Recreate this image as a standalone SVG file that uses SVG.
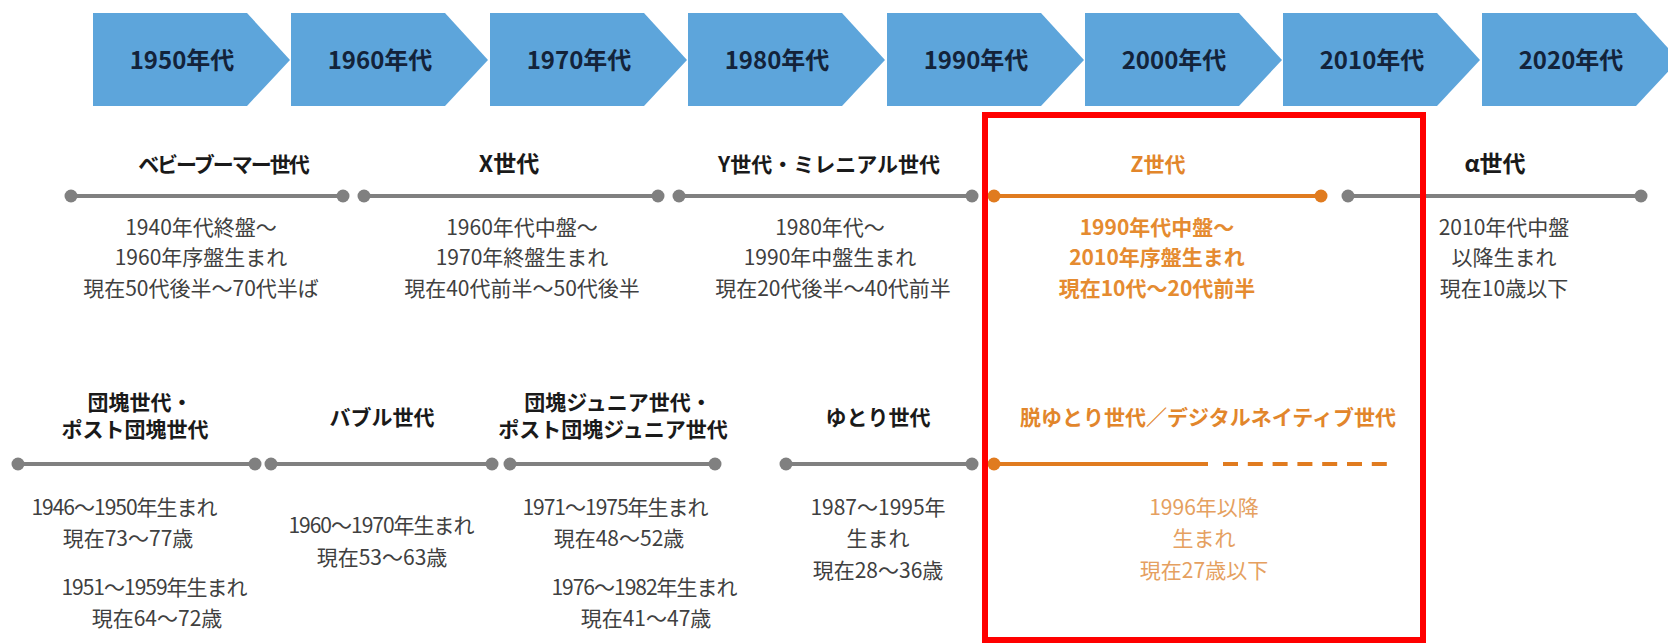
<svg xmlns="http://www.w3.org/2000/svg" width="1668" height="643" viewBox="0 0 1668 643">
<defs>
<style>
text{font-family:'Noto Sans CJK JP','Noto Sans',sans-serif;text-anchor:middle}
.chev{fill:#5DA5DB}
.ct{font-weight:bold;font-size:24px;fill:#13233a}
.lbl{font-weight:bold;font-size:21px;fill:#1a1a1a}
.big{font-size:23px}
.txt{font-size:21px;fill:#404040}
.bar{stroke:#808080;stroke-width:4;fill:none}
.dot{fill:#808080}
.obar{stroke:#E07B1F;stroke-width:4;fill:none}
.odot{fill:#E07B1F}
.olbl{font-weight:bold;font-size:21px;fill:#E2862B}
.otxt{font-size:21px;font-weight:bold;fill:#E58B30}
.otxt2{font-size:21px;fill:#E5A060}
</style>
</defs>
<rect width="1668" height="643" fill="#ffffff"/>

<g id="chevrons">
<g id="c1950"><path class="chev" d="M93,13H247L290,60L247,106H93Z"/><text class="ct" x="182" y="69">1950年代</text></g>
<g id="c1960"><path class="chev" d="M291,13H445L488,60L445,106H291Z"/><text class="ct" x="380" y="69">1960年代</text></g>
<g id="c1970"><path class="chev" d="M490,13H644L687,60L644,106H490Z"/><text class="ct" x="579" y="69">1970年代</text></g>
<g id="c1980"><path class="chev" d="M688,13H842L885,60L842,106H688Z"/><text class="ct" x="777" y="69">1980年代</text></g>
<g id="c1990"><path class="chev" d="M887,13H1041L1084,60L1041,106H887Z"/><text class="ct" x="976" y="69">1990年代</text></g>
<g id="c2000"><path class="chev" d="M1085,13H1239L1282,60L1239,106H1085Z"/><text class="ct" x="1174" y="69">2000年代</text></g>
<g id="c2010"><path class="chev" d="M1283,13H1437L1480,60L1437,106H1283Z"/><text class="ct" x="1372" y="69">2010年代</text></g>
<g id="c2020"><path class="chev" d="M1482,13H1636L1679,60L1636,106H1482Z"/><text class="ct" x="1571" y="69">2020年代</text></g>
</g>

<g id="connectors">
<line class="bar" x1="71" y1="196" x2="343" y2="196"/>
<line class="bar" x1="364" y1="196" x2="658" y2="196"/>
<line class="bar" x1="679" y1="196" x2="972" y2="196"/>
<line class="obar" x1="994" y1="196" x2="1321" y2="196"/>
<line class="bar" x1="1348" y1="196" x2="1641" y2="196"/>
<line class="bar" x1="18" y1="464" x2="255" y2="464"/>
<line class="bar" x1="271" y1="464" x2="492" y2="464"/>
<line class="bar" x1="510" y1="464" x2="715" y2="464"/>
<line class="bar" x1="786" y1="464" x2="972" y2="464"/>
<line class="obar" x1="994" y1="464" x2="1208" y2="464"/>
<line class="obar" x1="1223" y1="464" x2="1388" y2="464" stroke-dasharray="15 9.8"/>
</g>

<g id="boomer">
<circle class="dot" cx="71" cy="196" r="6.5"/><circle class="dot" cx="343" cy="196" r="6.5"/>
<text class="lbl" x="223" y="172" letter-spacing="-2">ベビーブーマー世代</text>
<text class="txt" x="201" y="235">1940年代終盤～</text>
<text class="txt" x="201" y="265">1960年序盤生まれ</text>
<text class="txt" x="201" y="296">現在50代後半～70代半ば</text>
</g>
<g id="genX">
<circle class="dot" cx="364" cy="196" r="6.5"/><circle class="dot" cx="658" cy="196" r="6.5"/>
<text class="lbl big" x="509" y="172">X世代</text>
<text class="txt" x="522" y="235">1960年代中盤～</text>
<text class="txt" x="522" y="265">1970年終盤生まれ</text>
<text class="txt" x="522" y="296">現在40代前半～50代後半</text>
</g>
<g id="genY">
<circle class="dot" cx="679" cy="196" r="6.5"/><circle class="dot" cx="972" cy="196" r="6.5"/>
<text class="lbl" x="829" y="172">Y世代・ミレニアル世代</text>
<text class="txt" x="830" y="235">1980年代～</text>
<text class="txt" x="830" y="265">1990年中盤生まれ</text>
<text class="txt" x="833" y="296">現在20代後半～40代前半</text>
</g>
<g id="genZ">
<circle class="odot" cx="994" cy="196" r="6.5"/><circle class="odot" cx="1321" cy="196" r="6.5"/>
<text class="olbl big" x="1158" y="172">Z世代</text>
<text class="otxt" x="1157" y="235">1990年代中盤～</text>
<text class="otxt" x="1157" y="265">2010年序盤生まれ</text>
<text class="otxt" x="1157" y="296">現在10代～20代前半</text>
</g>
<g id="genAlpha">
<circle class="dot" cx="1348" cy="196" r="6.5"/><circle class="dot" cx="1641" cy="196" r="6.5"/>
<text class="lbl big" x="1495" y="172">α世代</text>
<text class="txt" x="1504" y="235">2010年代中盤</text>
<text class="txt" x="1504" y="265">以降生まれ</text>
<text class="txt" x="1504" y="296">現在10歳以下</text>
</g>

<g id="dankai">
<circle class="dot" cx="18" cy="464" r="6.5"/><circle class="dot" cx="255" cy="464" r="6.5"/>
<text class="lbl" x="140" y="410">団塊世代・</text>
<text class="lbl" x="135" y="437">ポスト団塊世代</text>
<text class="txt" x="124" y="515" letter-spacing="-1">1946～1950年生まれ</text>
<text class="txt" x="128" y="546">現在73～77歳</text>
<text class="txt" x="154" y="595" letter-spacing="-1">1951～1959年生まれ</text>
<text class="txt" x="157" y="626">現在64～72歳</text>
</g>
<g id="bubble">
<circle class="dot" cx="271" cy="464" r="6.5"/><circle class="dot" cx="492" cy="464" r="6.5"/>
<text class="lbl" x="382" y="425">バブル世代</text>
<text class="txt" x="381" y="533" letter-spacing="-1">1960～1970年生まれ</text>
<text class="txt" x="382" y="565">現在53～63歳</text>
</g>
<g id="dankaiJr">
<circle class="dot" cx="510" cy="464" r="6.5"/><circle class="dot" cx="715" cy="464" r="6.5"/>
<text class="lbl" x="618" y="410">団塊ジュニア世代・</text>
<text class="lbl" x="613" y="437">ポスト団塊ジュニア世代</text>
<text class="txt" x="615" y="515" letter-spacing="-1">1971～1975年生まれ</text>
<text class="txt" x="619" y="546">現在48～52歳</text>
<text class="txt" x="644" y="595" letter-spacing="-1">1976～1982年生まれ</text>
<text class="txt" x="646" y="626">現在41～47歳</text>
</g>
<g id="yutori">
<circle class="dot" cx="786" cy="464" r="6.5"/><circle class="dot" cx="972" cy="464" r="6.5"/>
<text class="lbl" x="878" y="425">ゆとり世代</text>
<text class="txt" x="878" y="515">1987～1995年</text>
<text class="txt" x="878" y="546">生まれ</text>
<text class="txt" x="878" y="578">現在28～36歳</text>
</g>
<g id="datsuYutori">
<circle class="odot" cx="994" cy="464" r="6.5"/>
<text class="olbl" x="1208" y="425">脱ゆとり世代／デジタルネイティブ世代</text>
<text class="otxt2" x="1204" y="515">1996年以降</text>
<text class="otxt2" x="1204" y="546">生まれ</text>
<text class="otxt2" x="1204" y="578">現在27歳以下</text>
</g>

<g id="highlight">
<rect x="985" y="115" width="438" height="525" fill="none" stroke="#FF0000" stroke-width="6"/>
</g>
</svg>
